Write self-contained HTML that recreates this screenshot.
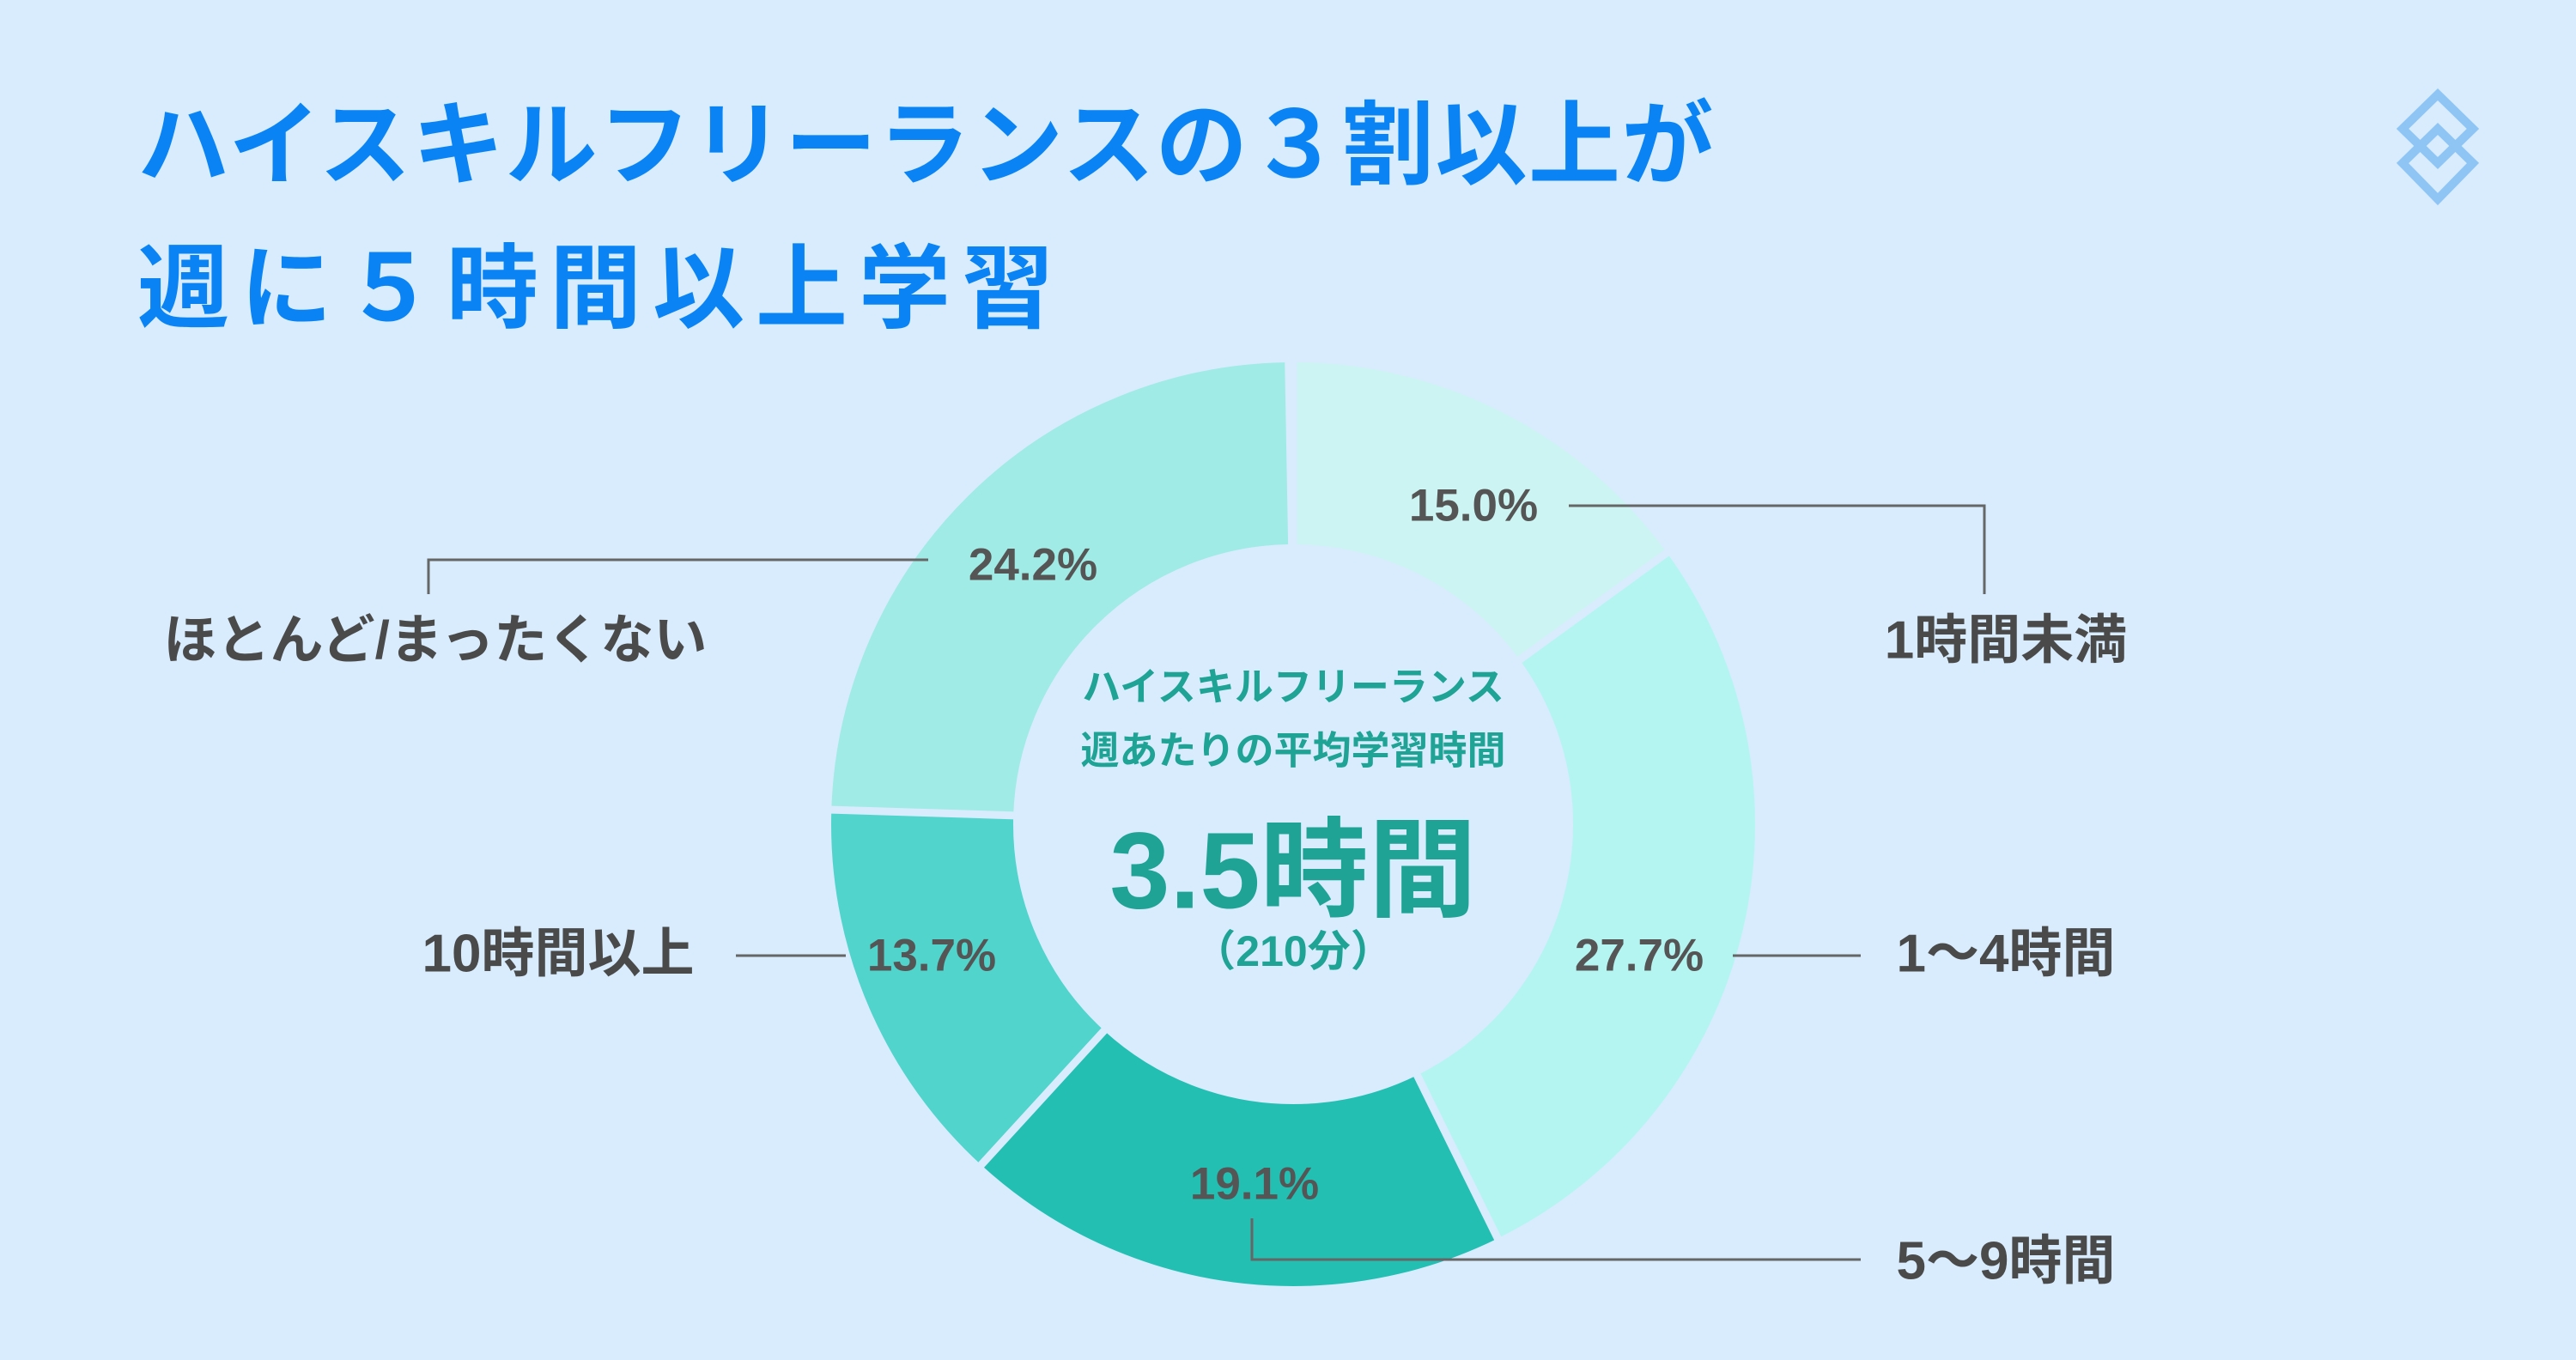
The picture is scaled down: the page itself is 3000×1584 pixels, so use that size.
<!DOCTYPE html>
<html><head><meta charset="utf-8"><style>
html,body{margin:0;padding:0;background:#d8ecfd;}
svg{display:block}
</style></head><body>
<svg width="3000" height="1584" viewBox="0 0 3000 1584" xmlns="http://www.w3.org/2000/svg">
<rect width="3000" height="1584" fill="#d8ecfd"/>
<g font-family="'Liberation Sans','Noto Sans CJK JP',sans-serif" font-weight="bold">
<text x="160" y="206" font-size="107" fill="#0a84f5" letter-spacing="1.5">ハイスキルフリーランスの３割以上が</text>
<text x="160" y="373" font-size="107" fill="#0a84f5" letter-spacing="13">週に５時間以上学習</text>
</g>
<g fill="none" stroke="#8ec5f5" stroke-width="10">
<path d="M2839 110 L2880 150 L2839 190 L2798 150 Z"/>
<path d="M2839 150 L2880 190 L2839 232 L2798 190 Z"/>
</g>
<g transform="rotate(-90 1506 960)" fill="none" stroke-width="212">
<circle cx="1506" cy="960" r="432" stroke="#ccf4f2" stroke-dasharray="407.1 3000" stroke-dashoffset="0"/>
<circle cx="1506" cy="960" r="432" stroke="#b5f5f1" stroke-dasharray="751.9 3000" stroke-dashoffset="-407.1"/>
<circle cx="1506" cy="960" r="432" stroke="#24bfb3" stroke-dasharray="518.4 3000" stroke-dashoffset="-1159"/>
<circle cx="1506" cy="960" r="432" stroke="#50d4cc" stroke-dasharray="371.9 3000" stroke-dashoffset="-1677.4"/>
<circle cx="1506" cy="960" r="432" stroke="#a0ebe5" stroke-dasharray="656.9 3000" stroke-dashoffset="-2049.3"/>
</g>
<g stroke="#d8ecfd" stroke-width="9">
<line x1="1506" y1="640" x2="1506" y2="410" transform="rotate(0 1506 960)"/>
<line x1="1506" y1="640" x2="1506" y2="410" transform="rotate(54 1506 960)"/>
<line x1="1506" y1="640" x2="1506" y2="410" transform="rotate(153.72 1506 960)"/>
<line x1="1506" y1="640" x2="1506" y2="410" transform="rotate(222.48 1506 960)"/>
<line x1="1506" y1="640" x2="1506" y2="410" transform="rotate(271.8 1506 960)"/>
</g>
<g fill="none" stroke="#666" stroke-width="3">
<polyline points="1827,589 2311,589 2311,692"/>
<polyline points="1081,652 499,652 499,692"/>
<line x1="2018" y1="1113" x2="2167" y2="1113"/>
<line x1="857" y1="1113" x2="985" y2="1113"/>
<polyline points="1458,1419 1458,1467 2167,1467"/>
</g>
<g font-family="'Liberation Sans','Noto Sans CJK JP',sans-serif" font-weight="bold" text-anchor="middle" dominant-baseline="central">
<g fill="#555" font-size="53">
<text x="1716" y="589">15.0%</text>
<text x="1203" y="658">24.2%</text>
<text x="1909" y="1113">27.7%</text>
<text x="1085" y="1113">13.7%</text>
<text x="1461" y="1379">19.1%</text>
</g>
<g fill="#4a4a4a" font-size="62">
<text x="2336" y="746">1時間未満</text>
<text x="2336" y="1111">1〜4時間</text>
<text x="2336" y="1469">5〜9時間</text>
<text x="650" y="1111">10時間以上</text>
<text x="507" y="746">ほとんど/まったくない</text>
</g>
<g fill="#1fa394">
<text x="1506" y="800" font-size="45">ハイスキルフリーランス</text>
<text x="1506" y="874" font-size="45">週あたりの平均学習時間</text>
<text x="1506" y="1014" font-size="126">3.5時間</text>
<text x="1506" y="1108" font-size="50">（210分）</text>
</g>
</g>
</svg>
</body></html>
